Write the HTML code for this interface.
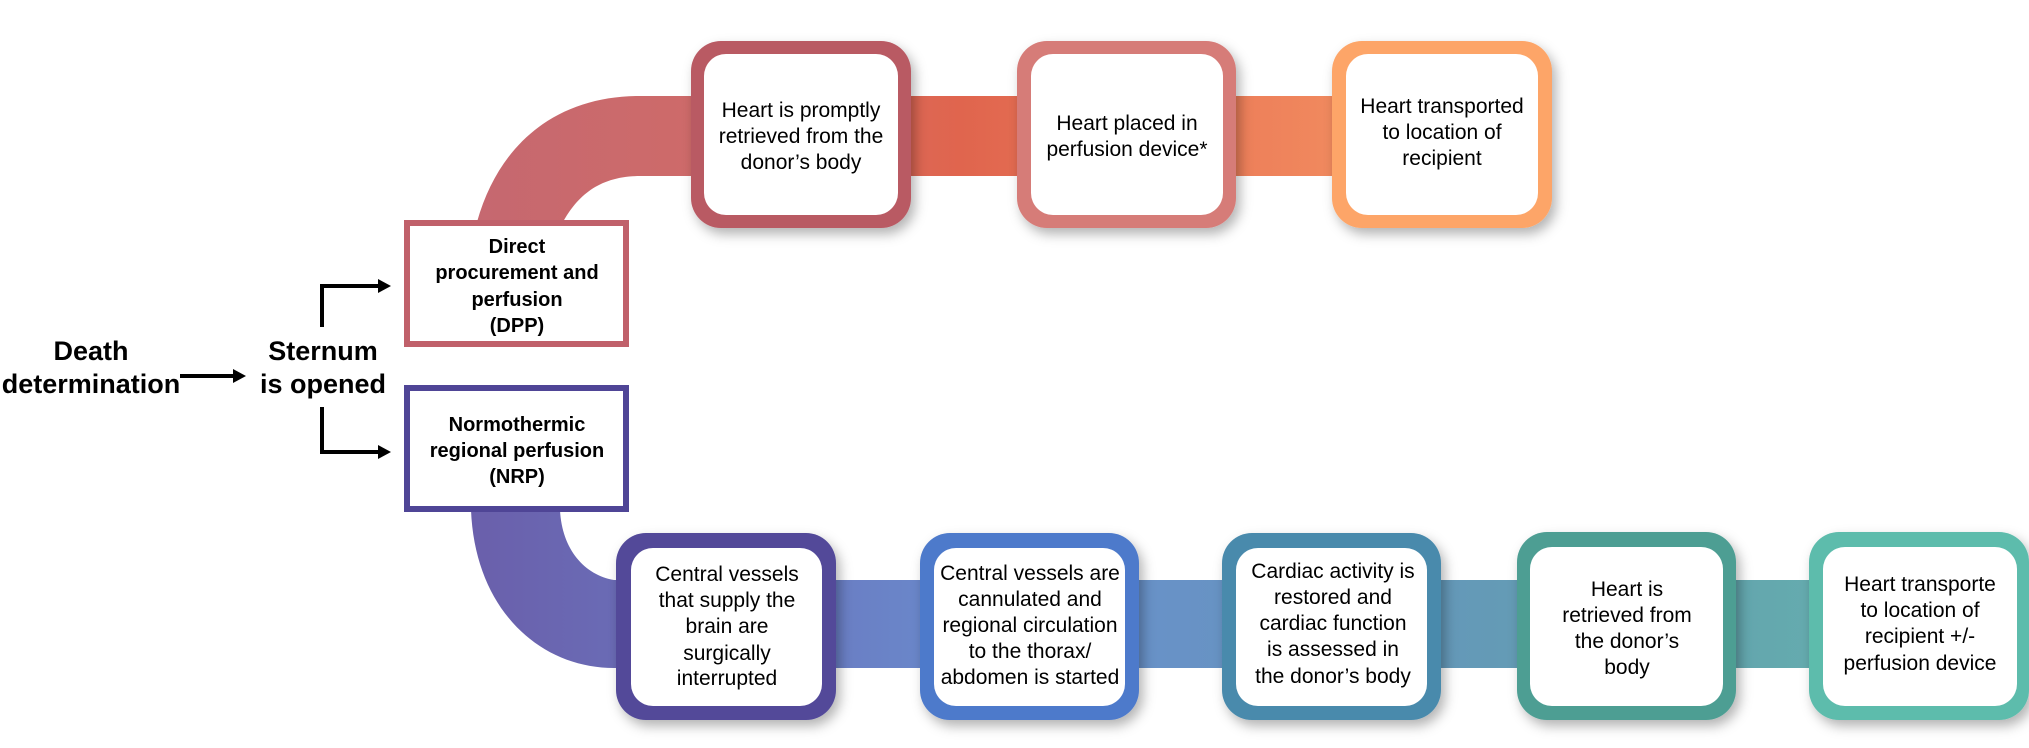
<!DOCTYPE html>
<html><head><meta charset="utf-8"><style>
html,body{margin:0;padding:0;background:#fff;}
svg{display:block;}
text{font-family:"Liberation Sans",Arial,sans-serif;}
.t{font-size:21px;fill:#000;text-anchor:middle;}
.b{font-size:20px;font-weight:bold;text-anchor:middle;}
.h{font-size:27px;font-weight:bold;text-anchor:middle;}
</style></head><body>
<svg width="2029" height="748" viewBox="0 0 2029 748" xmlns="http://www.w3.org/2000/svg">
<defs>
<linearGradient id="gt" x1="470" y1="0" x2="1560" y2="0" gradientUnits="userSpaceOnUse">
<stop offset="0" stop-color="#c56870"/><stop offset="0.25" stop-color="#d06b68"/>
<stop offset="0.45" stop-color="#e0654e"/><stop offset="0.75" stop-color="#ef845c"/><stop offset="1" stop-color="#f8a468"/></linearGradient>
<linearGradient id="gb" x1="470" y1="0" x2="2000" y2="0" gradientUnits="userSpaceOnUse">
<stop offset="0" stop-color="#6a5fab"/><stop offset="0.2" stop-color="#6a78c0"/>
<stop offset="0.35" stop-color="#6a8fcf"/><stop offset="0.6" stop-color="#6596bb"/><stop offset="0.8" stop-color="#62a3ad"/><stop offset="1" stop-color="#6ab8b2"/></linearGradient>
<filter id="sh" x="-20%" y="-20%" width="140%" height="140%"><feDropShadow dx="4" dy="6" stdDeviation="6" flood-color="#000" flood-opacity="0.3"/></filter>
</defs>

<!-- top band -->
<path d="M477,222 C500,140 560,96 640,96 L1400,96 L1400,176 L640,176 C600,176 578,195 563,222 Z" fill="url(#gt)"/>
<!-- bottom band -->
<path d="M471,510 C475,610 540,668 614,668 L1990,668 L1990,580 L614,580 C585,575 562,550 560,510 Z" fill="url(#gb)"/>

<!-- top boxes -->
<g filter="url(#sh)">
<rect x="691" y="41" width="220" height="187" rx="30" fill="#b95a64"/>
<rect x="1017" y="41" width="219" height="187" rx="30" fill="#d67b78"/>
<rect x="1332" y="41" width="220" height="187" rx="30" fill="#fda567"/>
<rect x="616" y="533" width="220" height="187" rx="30" fill="#524a99"/>
<rect x="920" y="533" width="219" height="187" rx="30" fill="#4d7acb"/>
<rect x="1222" y="533" width="219" height="187" rx="30" fill="#4a8aac"/>
<rect x="1517" y="532" width="219" height="188" rx="30" fill="#4e9e93"/>
<rect x="1809" y="532" width="220" height="188" rx="30" fill="#5dbcac"/>
</g>
<g fill="#fff">
<rect x="704" y="54" width="194" height="161" rx="22"/>
<rect x="1031" y="54" width="192" height="161" rx="22"/>
<rect x="1346" y="54" width="192" height="161" rx="22"/>
<rect x="631" y="548" width="191" height="158" rx="22"/>
<rect x="934" y="548" width="191" height="158" rx="22"/>
<rect x="1236" y="548" width="191" height="158" rx="22"/>
<rect x="1530" y="547" width="193" height="159" rx="22"/>
<rect x="1823" y="547" width="194" height="159" rx="22"/>
</g>

<!-- DPP / NRP boxes -->
<rect x="407" y="223" width="219" height="121" fill="#fff" stroke="#c0606a" stroke-width="6"/>
<rect x="407" y="388" width="219" height="121" fill="#fff" stroke="#4f4596" stroke-width="6"/>

<!-- arrows -->
<g stroke="#000" stroke-width="4" fill="none">
<line x1="180" y1="376" x2="235" y2="376"/>
<polyline points="322,327 322,286 380,286"/>
<polyline points="322,407 322,452 380,452"/>
</g>
<g fill="#000">
<polygon points="233,369 246,376 233,383"/>
<polygon points="378,279 391,286 378,293"/>
<polygon points="378,445 391,452 378,459"/>
</g>

<!-- headings -->
<text class="h" x="91" y="360">Death</text>
<text class="h" x="91" y="393">determination</text>
<text class="h" x="323" y="360">Sternum</text>
<text class="h" x="323" y="393">is opened</text>

<text class="b" x="517" y="253">Direct</text>
<text class="b" x="517" y="279">procurement and</text>
<text class="b" x="517" y="306">perfusion</text>
<text class="b" x="517" y="332">(DPP)</text>
<text class="b" x="517" y="431">Normothermic</text>
<text class="b" x="517" y="457">regional perfusion</text>
<text class="b" x="517" y="483">(NRP)</text>

<!-- top texts -->
<text class="t" x="801" y="117">Heart is promptly</text>
<text class="t" x="801" y="143">retrieved from the</text>
<text class="t" x="801" y="169">donor’s body</text>
<text class="t" x="1127" y="130">Heart placed in</text>
<text class="t" x="1127" y="156">perfusion device*</text>
<text class="t" x="1442" y="113">Heart transported</text>
<text class="t" x="1442" y="139">to location of</text>
<text class="t" x="1442" y="165">recipient</text>

<!-- bottom texts -->
<text class="t" x="727" y="581">Central vessels</text>
<text class="t" x="727" y="607">that supply the</text>
<text class="t" x="727" y="633">brain are</text>
<text class="t" x="727" y="660">surgically</text>
<text class="t" x="727" y="685">interrupted</text>

<text class="t" x="1030" y="580">Central vessels are</text>
<text class="t" x="1030" y="606">cannulated and</text>
<text class="t" x="1030" y="632">regional circulation</text>
<text class="t" x="1030" y="658">to the thorax/</text>
<text class="t" x="1030" y="684">abdomen is started</text>

<text class="t" x="1333" y="578">Cardiac activity is</text>
<text class="t" x="1333" y="604">restored and</text>
<text class="t" x="1333" y="630">cardiac function</text>
<text class="t" x="1333" y="656">is assessed in</text>
<text class="t" x="1333" y="683">the donor’s body</text>

<text class="t" x="1627" y="596">Heart is</text>
<text class="t" x="1627" y="622">retrieved from</text>
<text class="t" x="1627" y="648">the donor’s</text>
<text class="t" x="1627" y="674">body</text>

<text class="t" x="1920" y="591">Heart transporte</text>
<text class="t" x="1920" y="617">to location of</text>
<text class="t" x="1920" y="643">recipient +/-</text>
<text class="t" x="1920" y="670">perfusion device</text>
</svg>
</body></html>
